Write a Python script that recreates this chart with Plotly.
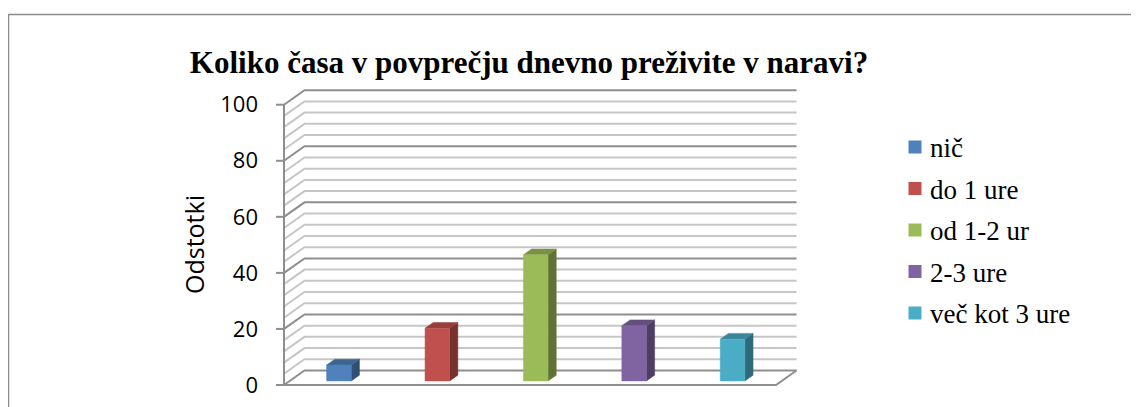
import plotly.graph_objects as go

# ---------------- data ----------------
categories = ["nič", "do 1 ure", "od 1-2 ur", "2-3 ure", "več kot 3 ure"]
values = [5.7, 18.8, 45.0, 19.7, 14.9]
colors = ["#4F81BD", "#C0504D", "#9BBB59", "#8064A2", "#4BACC6"]
ytick_vals = [0, 20, 40, 60, 80, 100]
ytick_text = ["0", "20", "40", "60", "80", "100"]
title_text = "Koliko časa v povprečju dnevno preživite v naravi?"
yaxis_title = "Odstotki"

# ---------------- geometry (pixels in the page / style) ----------------
PAGE_W, PAGE_H = 1139, 407
OFF = 8                           # default body margin of the html page
W, H = PAGE_W - OFF, PAGE_H - OFF
X0_PX, UNIT_X = 284.0, 98.4       # front-left corner, px per category
Y0_PX, UNIT_Y = 385.0, 2.803      # front floor, px per percent
PLOT_L, PLOT_R, PLOT_T, PLOT_B = 274, 806, 86, 390
DEPTH_X = 20.5 / UNIT_X           # oblique depth offset in axis units
DEPTH_Y = 14.5 / UNIT_Y
BAR_W = 0.25
BAR_D0, BAR_D1 = 0.28, 0.68
MINOR_STEP = 4
MAJOR_STEP = 20
YMAX = 100
NCAT = len(categories)

x_range = [(PLOT_L - X0_PX) / UNIT_X, (PLOT_R - X0_PX) / UNIT_X]
y_range = [(Y0_PX - PLOT_B) / UNIT_Y, (Y0_PX - PLOT_T) / UNIT_Y]


def paper_x(px):
    return (px - PLOT_L) / (PLOT_R - PLOT_L)


def paper_y(py):
    return (PLOT_B - py) / (PLOT_B - PLOT_T)


def shade(hex_color, f):
    h = hex_color.lstrip("#")
    r, g, b = (int(h[i:i + 2], 16) for i in (0, 2, 4))
    return "rgb({},{},{})".format(int(r * f), int(g * f), int(b * f))


fig = go.Figure()

# ---------------- walls: gridlines ----------------
minor_x, minor_y, major_x, major_y = [], [], [], []
for v in range(0, YMAX + 1, MINOR_STEP):
    xs = [0, DEPTH_X, NCAT + DEPTH_X, None]
    ys = [v, v + DEPTH_Y, v + DEPTH_Y, None]
    if v % MAJOR_STEP == 0:
        major_x += xs
        major_y += ys
    else:
        minor_x += xs
        minor_y += ys

fig.add_trace(go.Scatter(x=minor_x, y=minor_y, mode="lines",
                         line=dict(color="#c6c6c6", width=2),
                         hoverinfo="skip", showlegend=False))
fig.add_trace(go.Scatter(x=major_x, y=major_y, mode="lines",
                         line=dict(color="#8e8e8e", width=2),
                         hoverinfo="skip", showlegend=False))

# floor front edges + front vertical axis + ticks
tick_len = 8 / UNIT_X
ax_x = [NCAT + DEPTH_X, NCAT, 0, 0, None]
ax_y = [DEPTH_Y, 0, 0, YMAX, None]
for t in ytick_vals:
    ax_x += [-tick_len, 0, None]
    ax_y += [t, t, None]
fig.add_trace(go.Scatter(x=ax_x, y=ax_y, mode="lines",
                         line=dict(color="#8e8e8e", width=2),
                         hoverinfo="skip", showlegend=False))

# ---------------- 3D bars ----------------
bdx = (BAR_D1 - BAR_D0) * DEPTH_X
bdy = (BAR_D1 - BAR_D0) * DEPTH_Y
for i, (cat, v, c) in enumerate(zip(categories, values, colors)):
    x0 = i + 0.5 - BAR_W / 2 + BAR_D0 * DEPTH_X
    x1 = x0 + BAR_W
    y0 = BAR_D0 * DEPTH_Y
    y1 = y0 + v
    side_c = shade(c, 0.62)
    fig.add_trace(go.Scatter(
        x=[x1, x1 + bdx, x1 + bdx, x1, x1],
        y=[y0, y0 + bdy, y1 + bdy, y1, y0],
        fill="toself", fillcolor=side_c, mode="lines",
        line=dict(color=side_c, width=0.5), hoverinfo="skip", showlegend=False))
    top_c = shade(c, 0.78)
    fig.add_trace(go.Scatter(
        x=[x0, x1, x1 + bdx, x0 + bdx, x0],
        y=[y1, y1, y1 + bdy, y1 + bdy, y1],
        fill="toself", fillcolor=top_c, mode="lines",
        line=dict(color=top_c, width=0.5), hoverinfo="skip", showlegend=False))
    fig.add_trace(go.Scatter(
        x=[x0, x1, x1, x0, x0],
        y=[y0, y0, y1, y1, y0],
        fill="toself", fillcolor=c, mode="lines",
        line=dict(color=c, width=0.5), name=cat,
        hovertemplate=cat + ": %{customdata}<extra></extra>",
        customdata=[v] * 5, showlegend=False))

# ---------------- legend (manual) ----------------
shapes = []
annotations = []
LEG_SQ_X0, LEG_SQ_X1 = 908.5, 921.5
LEG_TEXT_X = 928
LEG_Y0, LEG_STEP, LEG_SQ = 147.0, 41.5, 13
for i, (cat, c) in enumerate(zip(categories, colors)):
    cy = LEG_Y0 + i * LEG_STEP
    shapes.append(dict(type="rect", xref="paper", yref="paper",
                       x0=paper_x(LEG_SQ_X0), x1=paper_x(LEG_SQ_X1),
                       y0=paper_y(cy + LEG_SQ / 2), y1=paper_y(cy - LEG_SQ / 2),
                       fillcolor=c, line=dict(width=0)))
    annotations.append(dict(text=cat, xref="paper", yref="paper",
                            x=paper_x(LEG_TEXT_X), y=paper_y(cy + 1),
                            xanchor="left", yanchor="middle", showarrow=False,
                            font=dict(family="Liberation Serif", size=27, color="#000000")))

# outer frame
shapes.append(dict(type="rect", xref="paper", yref="paper",
                   x0=paper_x(8.5), x1=paper_x(PAGE_W + 20),
                   y0=paper_y(PAGE_H + 20), y1=paper_y(14.5),
                   line=dict(color="#8c8c8c", width=1.5), fillcolor="rgba(0,0,0,0)"))

# y axis title
annotations.append(dict(text=yaxis_title, xref="paper", yref="paper",
                        x=paper_x(194), y=paper_y(245), textangle=-90,
                        xanchor="center", yanchor="middle", showarrow=False,
                        font=dict(family="Open Sans", size=25, color="#000000")))

fig.update_layout(
    width=W, height=H,
    margin=dict(l=PLOT_L - OFF, r=W - (PLOT_R - OFF), t=PLOT_T - OFF,
                b=H - (PLOT_B - OFF), pad=0, autoexpand=False),
    paper_bgcolor="white", plot_bgcolor="white",
    title=dict(text="<b>" + title_text + "</b>", x=(529 - OFF) / W,
               y=1 - (62 - OFF) / H, xref="container", yref="container",
               xanchor="center", yanchor="middle",
               font=dict(family="Liberation Serif", size=31, color="#000000")),
    xaxis=dict(range=x_range, visible=False, fixedrange=True),
    yaxis=dict(range=y_range, tickvals=ytick_vals, ticktext=ytick_text,
               ticks="", showgrid=False, zeroline=False, showline=False,
               ticklabelstandoff=15, fixedrange=True,
               tickfont=dict(family="Open Sans", size=22, color="#000000")),
    shapes=shapes, annotations=annotations,
    showlegend=False,
)

fig.write_html("out.html")
